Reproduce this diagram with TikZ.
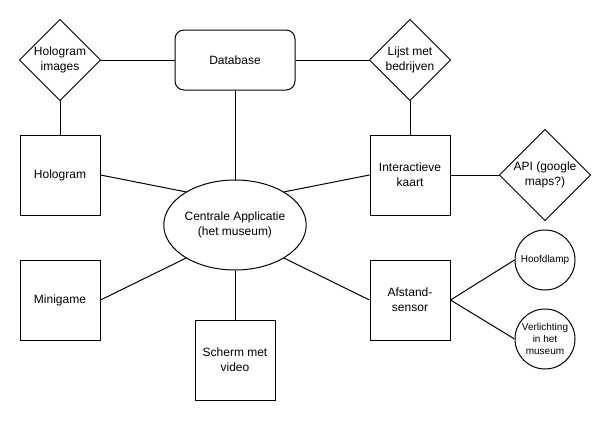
\documentclass[tikz,border=0pt]{standalone}
\usepackage{fontspec}
\setmainfont{Liberation Sans}
\usetikzlibrary{shapes.geometric}
\begin{document}
\begin{tikzpicture}[x=1pt,y=-1pt,line width=1pt,
  txt/.style={font=\fontsize{12}{15}\selectfont, align=center, inner sep=0pt},
  box/.style={txt, draw, minimum width=80pt, minimum height=80pt},
  dia/.style={txt, minimum width=#1, minimum height=#1},
  circ/.style={draw, circle, minimum size=60pt, inner sep=0pt, align=center, font=\fontsize{10}{12}\selectfont},
  link/.style={draw, line width=1pt}]
\useasboundingbox (0,0) rectangle (611,421);
% nodes
\node[txt, draw, rounded corners=9pt, minimum width=120pt, minimum height=60pt] (db) at (235,60) {Database};
\node[dia=80pt] (hi) at (60,60) {Hologram\\images};
\node[dia=80pt] (lm) at (410,60) {Lijst met\\bedrijven};
\node[dia=90pt] (api) at (545,175) {API (google\\maps?)};
\node[box] (holo) at (60,175) {Hologram};
\node[box] (kaart) at (410,175) {Interactieve\\kaart};
\node[box] (mini) at (60,300) {Minigame};
\node[box] (afst) at (410,300) {Afstand-\\sensor};
\node[box] (scherm) at (235,360) {Scherm met\\video};
\node[txt, draw, ellipse, minimum width=130pt, minimum height=90pt] (app) at (235,225) {Centrale Applicatie\\(het museum)};
\node[circ] (lamp) at (545,260) {Hoofdlamp};
\node[circ] (verl) at (545,339) {Verlichting\\in het\\museum};
% diamonds
\foreach \d in {hi,lm,api}
  \draw (\d.north) -- (\d.east) -- (\d.south) -- (\d.west) -- cycle;
% connectors
\path[link] (hi.east) -- (db.west);
\path[link] (db.east) -- (lm.west);
\path[link] (hi.south) -- (holo.north);
\path[link] (lm.south) -- (kaart.north);
\path[link] (kaart.east) -- (api.west);
\path[link] (db.south) -- (app.north);
\path[link] (holo.east) -- (app.146);
\path[link] (kaart.west) -- (app.34);
\path[link] (mini.east) -- (app.214);
\path[link] (afst.west) -- (app.326);
\path[link] (app.south) -- (scherm.north);
\path[link] (afst.east) -- (lamp.west);
\path[link] (afst.east) -- (verl.west);
\end{tikzpicture}
\end{document}
